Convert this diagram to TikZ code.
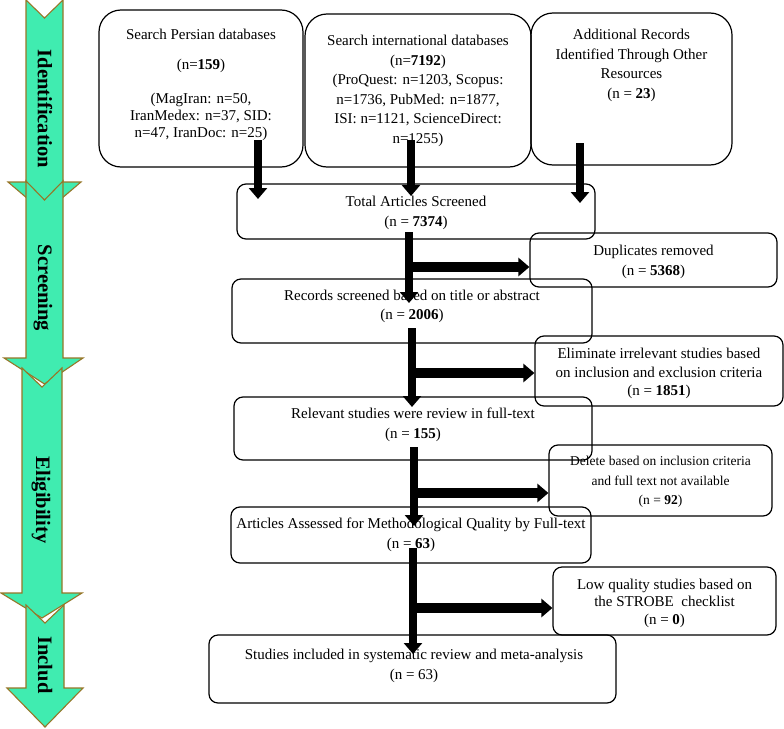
\documentclass[tikz,border=0pt]{standalone}
\usepackage{fontspec}
\setmainfont{Liberation Serif}
\usetikzlibrary{arrows.meta}
\definecolor{stagegreen}{RGB}{64,236,176}
\definecolor{stageedge}{RGB}{150,118,40}
\begin{document}
\begin{tikzpicture}[x=1pt,y=-1pt,
  rbig/.style={draw, line width=1.2pt, rounded corners=22pt, inner sep=0pt},
  rbox/.style={draw, line width=1.2pt, rounded corners=9pt, inner sep=0pt},
  txt/.style={align=center, inner sep=0pt, font=\fontsize{15}{19.5}\selectfont},
  txtsmall/.style={align=center, inner sep=0pt, font=\fontsize{13.5}{19.5}\selectfont},
  stage/.style={fill=stagegreen, draw=stageedge, line width=1.1pt, line join=miter},
  stagelbl/.style={rotate=-90, inner sep=0pt, font=\fontsize{20.5}{20.5}\selectfont\bfseries},
  vflow/.style={line width=8pt, -{Triangle[width=18pt,length=11pt]}},
  hflow/.style={line width=10pt, -{Triangle[width=18pt,length=11pt]}},
]
\useasboundingbox (0,0) rectangle (784,728);

% stage arrows (left column)
\draw[stage] (26,0) -- (44.5,18) -- (63,0) -- (63,182) -- (81,182) -- (44.5,213) -- (8,182) -- (26,182) -- cycle;
\draw[stage] (26,181) -- (44.5,200) -- (63,181) -- (63,358) -- (83,358) -- (44.5,384) -- (4,358) -- (26,358) -- cycle;
\draw[stage] (22,368) -- (42,387) -- (62,368) -- (62,593) -- (82,593) -- (42,618) -- (1,593) -- (22,593) -- cycle;
\draw[stage] (26,605) -- (45,623) -- (64,605) -- (64,688) -- (83,688) -- (45,727) -- (7,688) -- (26,688) -- cycle;
\node[stagelbl] (s1) at (45,109) {Identification};
\node[stagelbl] (s2) at (43,288) {Screening};
\node[stagelbl] (s3) at (41,500) {Eligibility};
\node[stagelbl] (s4) at (45,665) {Includ};

% boxes
\node[rbig, minimum width=204pt, minimum height=157pt] (A) at (201,88.5) {};
\node[rbig, minimum width=226pt, minimum height=153pt] (B) at (418,90.5) {};
\node[rbig, minimum width=201pt, minimum height=152pt] (C) at (631.5,89) {};
\node[rbox, minimum width=358pt, minimum height=55pt] (D) at (416,211.5) {};
\node[rbox, minimum width=247pt, minimum height=54pt] (E) at (653.5,260) {};
\node[rbox, minimum width=360pt, minimum height=64pt] (F) at (412,311) {};
\node[rbox, minimum width=248pt, minimum height=70pt] (G) at (659,371) {};
\node[rbox, minimum width=358pt, minimum height=63pt] (H) at (413,428.5) {};
\node[rbox, minimum width=223pt, minimum height=71pt] (I) at (660.5,480.5) {};
\node[rbox, minimum width=360pt, minimum height=56pt] (J) at (411,535) {};
\node[rbox, minimum width=223pt, minimum height=68pt] (K) at (664.5,601) {};
\node[rbox, minimum width=407pt, minimum height=68pt] (L) at (412.5,669) {};

% texts
\node[txt] (At1) at (201,34) {Search Persian databases};
\node[txt] (At2) at (201,66) {(n=\textbf{159})};
\node[txt, font=\fontsize{15}{17}\selectfont] (At3) at (201,117) {(MagIran: n=50,\\IranMedex: n=37, SID:\\n=47, IranDoc: n=25)};
\node[txt] (Bt) at (418,91) {Search international databases\\(n=\textbf{7192})\\(ProQuest: n=1203, Scopus:\\n=1736, PubMed: n=1877,\\ISI: n=1121, ScienceDirect:\\n=1255)};
\node[txt] (Ct) at (631.5,65.5) {Additional Records\\Identified Through Other\\Resources\\(n = \textbf{23})};
\node[txt] (Dt) at (416,213) {Total Articles Screened\\(n = \textbf{7374})};
\node[txt] (Et) at (653.5,262) {Duplicates removed\\(n = \textbf{5368})};
\node[txt] (Ft) at (412,306.5) {Records screened based on title or abstract\\(n = \textbf{2006})};
\node[txt, font=\fontsize{15}{18.5}\selectfont] (Gt) at (659,373.5) {Eliminate irrelevant studies based\\on inclusion and exclusion criteria\\(n = \textbf{1851})};
\node[txt] (Ht) at (413,425) {Relevant studies were review in full-text\\(n = \textbf{155})};
\node[txtsmall] (It) at (660.5,482) {Delete based on inclusion criteria\\and full text not available\\(n = \textbf{92})};
\node[txt] (Jt) at (411,535) {Articles Assessed for Methodological Quality by Full-text\\(n = \textbf{63})};
\node[txt, font=\fontsize{15}{17.5}\selectfont] (Kt) at (664.5,603) {Low quality studies based on\\the STROBE~~checklist\\(n = \textbf{0})};
\node[txt] (Lt) at (414,666) {Studies included in systematic review and meta-analysis\\(n = 63)};

% flow arrows
\coordinate (a1) at (258,140);
\coordinate (b1) at (411,140);
\coordinate (c1) at (580,143);
\draw[vflow] (a1) -- (a1 |- 0,199);
\draw[vflow] (b1) -- (b1 |- 0,196);
\draw[vflow] (c1) -- (c1 |- 0,203);

\coordinate (d1) at (409,232);
\coordinate (d2) at (409,267);
\draw[vflow] (d1) -- (d1 |- 0,303);
\draw[hflow] (d2) -- (d2 -| E.west);

\coordinate (f1) at (412,328);
\coordinate (f2) at (412,373);
\draw[vflow] (f1) -- (f1 |- 0,407);
\draw[hflow] (f2) -- (f2 -| G.west);

\coordinate (h1) at (414,447);
\coordinate (h2) at (414,493);
\draw[vflow] (h1) -- (h1 |- 0,526);
\draw[hflow] (h2) -- (h2 -| I.west);

\coordinate (j1) at (413,548);
\coordinate (j2) at (413,608);
\draw[vflow] (j1) -- (j1 |- 0,654);
\draw[hflow] (j2) -- (j2 -| K.west);
\end{tikzpicture}
\end{document}
